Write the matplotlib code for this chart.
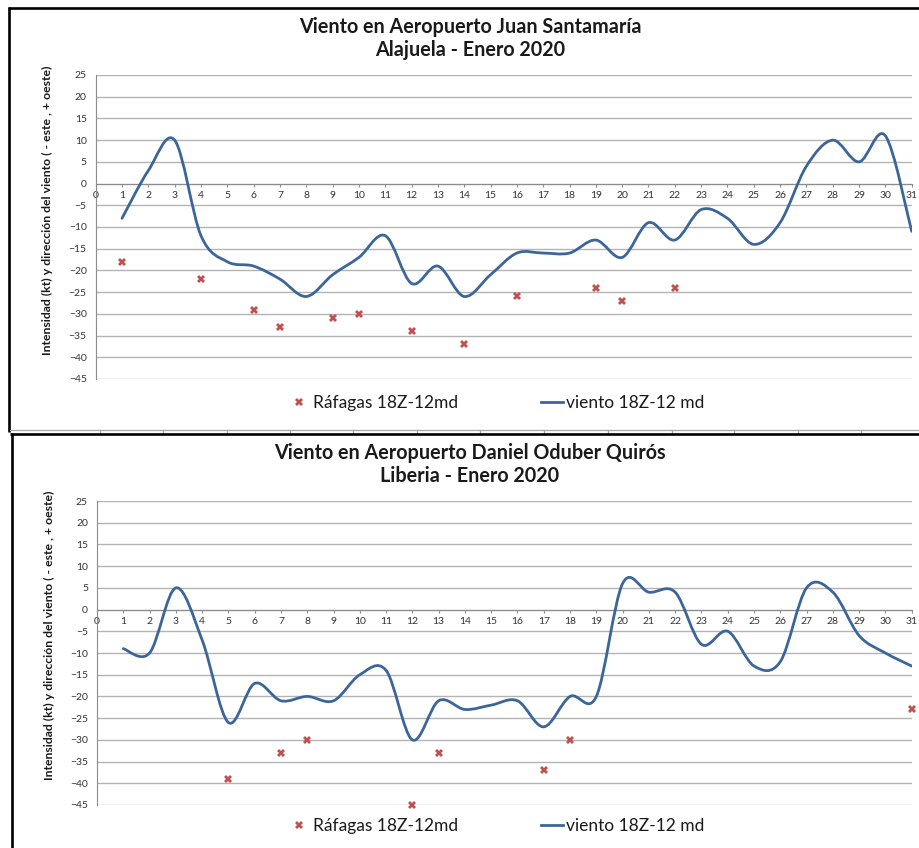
import numpy as np
import matplotlib
matplotlib.use("Agg")
import matplotlib.pyplot as plt
from matplotlib.path import Path
from matplotlib.patches import PathPatch
from matplotlib.lines import Line2D

plt.rcParams['font.family'] = ['Lato', 'DejaVu Sans']

# --- data -------------------------------------------------------------
days = list(range(1, 32))

# Alajuela (Juan Santamaria)
viento_sjo = [-8, 3, 10, -12, -18, -19, -22, -26, -21, -17, -12, -23, -19, -26, -21, -16,
              -16, -16, -13, -17, -9, -13, -6, -8, -14, -9, 4, 10, 5, 11, -11]
rafaga_dias_sjo = [1, 4, 6, 7, 9, 10, 12, 14, 16, 19, 20, 22]
rafaga_sjo = [-18, -22, -29, -33, -31, -30, -34, -37, -26, -24, -27, -24]

# Liberia (Daniel Oduber)
viento_lir = [-9, -10, 5, -7, -26, -17, -21, -20, -21, -15, -14, -30, -21, -23, -22, -21,
              -27, -20, -20, 6, 4, 4, -8, -5, -13, -12, 5, 4, -6, -10, -13]
rafaga_dias_lir = [5, 7, 8, 12, 13, 17, 18, 31]
rafaga_lir = [-39, -33, -30, -45, -33, -37, -30, -23]

titulos = [("Viento en Aeropuerto Juan Santamaría", "Alajuela - Enero 2020"),
           ("Viento en Aeropuerto Daniel Oduber Quirós", "Liberia - Enero 2020")]
ylabel = "Intensidad (kt) y dirección del viento ( - este , + oeste)"
leg_rafagas = "Ráfagas 18Z-12md"
leg_viento = "viento 18Z-12 md"

LINE_COLOR = '#3c659a'
GUST_COLOR = '#c0504d'

W, H = 920, 848


def fx(px):
    return px / W


def fy(py):
    return 1 - py / H


def smooth_path(x, y):
    """Excel-like smoothed line: cubic Bezier segments through each point."""
    x = np.asarray(x, float)
    y = np.asarray(y, float)
    n = len(x)
    verts = [(x[0], y[0])]
    codes = [Path.MOVETO]
    for i in range(n - 1):
        p0 = max(i - 1, 0)
        p3 = min(i + 2, n - 1)
        c1 = (x[i] + (x[i + 1] - x[p0]) / 6, y[i] + (y[i + 1] - y[p0]) / 6)
        c2 = (x[i + 1] - (x[p3] - x[i]) / 6, y[i + 1] - (y[p3] - y[i]) / 6)
        verts += [c1, c2, (x[i + 1], y[i + 1])]
        codes += [Path.CURVE4] * 3
    return Path(verts, codes)


fig = plt.figure(figsize=(9.2, 8.48), dpi=100)

# frames copied from the spreadsheet screenshot
border = dict(color='black', lw=1.9, transform=fig.transFigure, solid_capstyle='butt')
fig.add_artist(Line2D([fx(8), fx(920)], [fy(7.8), fy(7.8)], **border))
fig.add_artist(Line2D([fx(9), fx(9)], [fy(7), fy(432)], **border))
fig.add_artist(Line2D([fx(10), fx(920)], [fy(429.5), fy(429.5)], color='#a6a6a6', lw=0.9,
                      transform=fig.transFigure))
for cx in [100, 163, 227, 290, 353, 417, 480, 544, 608, 672, 734, 798, 861]:
    fig.add_artist(Line2D([fx(cx), fx(cx)], [fy(429.5), fy(433)], color='#a6a6a6', lw=0.9,
                          transform=fig.transFigure))
fig.add_artist(Line2D([fx(10), fx(920)], [fy(433.5), fy(433.5)], **border))
fig.add_artist(Line2D([fx(11.5), fx(11.5)], [fy(433), fy(848)], **border))

panels = [
    dict(viento=viento_sjo, rd=rafaga_dias_sjo, r=rafaga_sjo, left=95.7, top=75,
         title_y=27, ylab=(47, 210), leg_y=403),
    dict(viento=viento_lir, rd=rafaga_dias_lir, r=rafaga_lir, left=97, top=501,
         title_y=453, ylab=(49, 635), leg_y=826),
]

for p, (t1, t2) in zip(panels, titulos):
    ax = fig.add_axes([fx(p['left']), fy(p['top'] + 304), (911.7 - p['left']) / W, 304 / H])
    ax.set_xlim(0, 31)
    ax.set_ylim(-45, 25)
    ax.set_yticks(range(-45, 30, 5))
    ax.set_xticks(range(0, 32))
    ax.yaxis.grid(True, color='#b3b3b3', lw=1.0)
    ax.set_axisbelow(True)
    for s in ['top', 'right']:
        ax.spines[s].set_visible(False)
    ax.spines['left'].set_color('#8c8c8c')
    ax.spines['bottom'].set_color('#8c8c8c')
    ax.spines['bottom'].set_position(('data', 0))
    ax.spines['bottom'].set_zorder(1.5)
    ax.tick_params(axis='y', length=0, pad=6.5, labelsize=7.5, labelcolor='#333333')
    ax.tick_params(axis='x', direction='out', length=2.5, width=0.8, color='#8c8c8c',
                   pad=2.5, labelsize=7.5, labelcolor='#333333')

    patch = PathPatch(smooth_path(days, p['viento']), fill=False, edgecolor=LINE_COLOR,
                      lw=2.0, zorder=3, capstyle='round', joinstyle='round')
    ax.add_patch(patch)
    ax.plot(p['rd'], p['r'], linestyle='none', marker='X', markersize=6.2,
            color=GUST_COLOR, markeredgewidth=0, zorder=4, clip_on=False)

    fig.text(fx(470), fy(p['title_y']), t1, ha='center', va='center',
             fontsize=14.2, fontweight='bold', color='#1a1a1a')
    fig.text(fx(470), fy(p['title_y'] + 23), t2, ha='center', va='center',
             fontsize=14.2, fontweight='bold', color='#1a1a1a')
    fig.text(fx(p['ylab'][0]), fy(p['ylab'][1]), ylabel, rotation=90, ha='center',
             va='center', fontsize=8.8, fontweight='bold', color='#1a1a1a')

    handles = [Line2D([], [], linestyle='none', marker='X', markersize=6.2,
                      color=GUST_COLOR, markeredgewidth=0),
               Line2D([], [], color=LINE_COLOR, lw=2.0)]
    fig.legend(handles, [leg_rafagas, leg_viento], loc='center',
               bbox_to_anchor=(fx(496), fy(p['leg_y'])), ncol=2, frameon=False,
               fontsize=12.5, handlelength=1.3, handletextpad=0.15,
               columnspacing=4.75, labelcolor='#1a1a1a')

fig.savefig('out.png', dpi=100)
